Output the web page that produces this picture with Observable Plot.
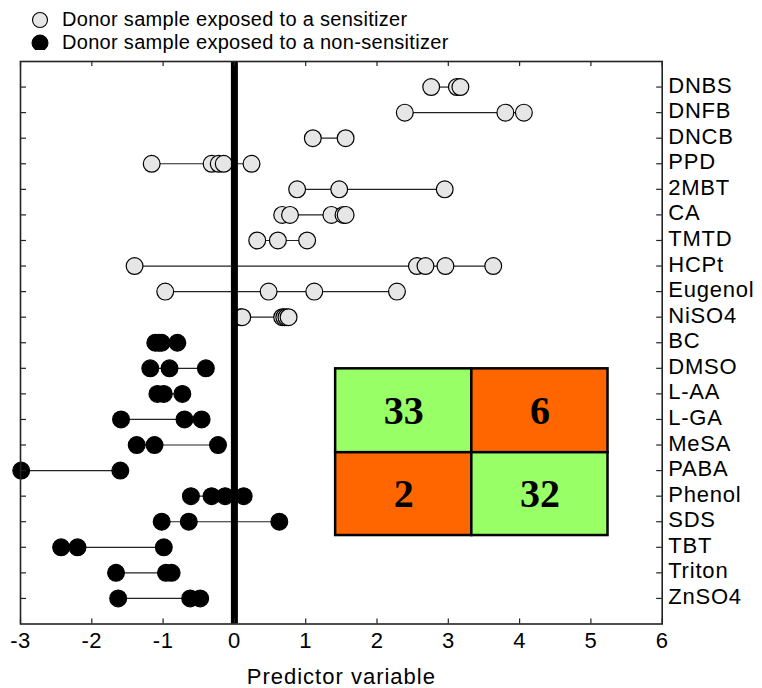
<!DOCTYPE html>
<html>
<head>
<meta charset="utf-8">
<script src="https://cdn.jsdelivr.net/npm/d3@7"></script>
<script src="https://cdn.jsdelivr.net/npm/@observablehq/plot@0.6"></script>
<style>
  html, body { margin: 0; padding: 0; background: white; }
  #wrap { position: relative; width: 762px; font-family: "Liberation Sans", Arial, sans-serif; }
  #legend { position: relative; height: 50px; }
  #legend svg { position: absolute; left: 0; top: 0; }
  #legend .item { position: absolute; left: 62px; font-size: 20px; letter-spacing: 0.3px; line-height: 22px; color: #000; white-space: nowrap; }
</style>
</head>
<body>
<div id="wrap">
  <div id="legend">
    <svg width="60" height="50">
      <circle cx="40" cy="20" r="7.5" fill="#e6e6e6" stroke="#000" stroke-width="1.1"></circle>
      <circle cx="40" cy="43" r="8" fill="#000" stroke="#000" stroke-width="1"></circle>
    </svg>
    <div class="item" style="top:8px">Donor sample exposed to a sensitizer</div>
    <div class="item" style="top:31px">Donor sample exposed to a non-sensitizer</div>
  </div>
  <div id="chart"></div>
</div>
<script>
// ---- Data ----
const compounds = ["DNBS","DNFB","DNCB","PPD","2MBT","CA","TMTD","HCPt","Eugenol","NiSO4",
  "BC","DMSO","L-AA","L-GA","MeSA","PABA","Phenol","SDS","TBT","Triton","ZnSO4"];
const sensitizerCount = 10; // first 10 compounds are sensitizers
const predictorValues = [
  [2.76, 3.12, 3.17],
  [2.39, 3.80, 4.06],
  [1.10, 1.56],
  [-1.16, -0.32, -0.22, -0.15, 0.24],
  [0.88, 1.47, 2.95],
  [0.67, 0.78, 1.36, 1.53, 1.56],
  [0.32, 0.61, 1.02],
  [-1.40, 2.56, 2.68, 2.96, 3.63],
  [-0.97, 0.48, 1.12, 2.28],
  [0.085, 0.11, 0.67, 0.70, 0.73, 0.76],
  [-1.11, -1.06, -1.02, -0.80],
  [-1.18, -0.91, -0.40],
  [-1.08, -0.99, -0.73],
  [-1.59, -0.70, -0.46],
  [-1.37, -1.12, -0.23],
  [-2.99, -1.60],
  [-0.61, -0.32, -0.13, 0.13],
  [-1.02, -0.64, 0.63],
  [-2.43, -2.20, -0.99],
  [-1.66, -0.96, -0.88],
  [-1.63, -0.62, -0.48]
];
const xTicks = [-3, -2, -1, 0, 1, 2, 3, 4, 5, 6];
// confusion matrix inset
const matrixCounts = [33, 6, 2, 32];
const matrixFills = ["#99ff66", "#ff6600", "#ff6600", "#99ff66"];
const matrixXEdges = [1.42, 3.33, 5.24];
const matrixYEdges = [11.02, 14.30, 17.54];

// ---- Build tables ----
const points = [];
const ranges = [];
predictorValues.forEach((vals, i) => {
  const sorted = [...vals].sort((a, b) => a - b);
  sorted.forEach(v => points.push({idx: i, value: v, sens: i < sensitizerCount}));
  ranges.push({idx: i, min: d3.min(vals), max: d3.max(vals)});
});
const cells = matrixCounts.map((c, k) => {
  const r = Math.floor(k / 2), col = k % 2;
  return {
    count: c, fill: matrixFills[k],
    x1: matrixXEdges[col], x2: matrixXEdges[col + 1],
    y1: matrixYEdges[r], y2: matrixYEdges[r + 1]
  };
});
const rowIdx = d3.range(compounds.length);

const W = 762, H = 638, mT = 11, mB = 64.5, mL = 20, mR = 100.3;
const innerH = H - mT - mB, innerW = W - mL - mR;
const font = '"Liberation Sans", Arial, sans-serif';

const chart = Plot.plot({
  width: W, height: H,
  marginTop: mT, marginBottom: mB, marginLeft: mL, marginRight: mR,
  style: {fontFamily: font, fontSize: "21px", color: "#000", background: "white", overflow: "visible"},
  x: {domain: [-3, 6]},
  y: {domain: [-1, compounds.length], reverse: true},
  marks: [
    Plot.ruleY(ranges, {y: "idx", x1: "min", x2: "max", stroke: "#222", strokeWidth: 1.2}),
    Plot.dot(points, {x: "value", y: "idx", r: 8.4, fill: d => d.sens ? "#e6e6e6" : "#000",
      stroke: "#000", strokeWidth: 1.2}),
    Plot.rect(cells, {x1: "x1", x2: "x2", y1: "y1", y2: "y2", fill: "fill", stroke: "#000", strokeWidth: 2.5}),
    Plot.text(cells, {x: d => (d.x1 + d.x2) / 2, y: d => (d.y1 + d.y2) / 2, text: d => String(d.count),
      fontSize: 40, fontWeight: "bold", fontFamily: '"Liberation Serif", "Times New Roman", serif', fill: "#000"}),
    Plot.ruleX([0], {stroke: "#000", strokeWidth: 7}),
    // inward ticks
    Plot.tickX(xTicks, {x: d => d, insetTop: innerH - 5, stroke: "#222", strokeWidth: 1.2}),
    Plot.tickX(xTicks, {x: d => d, insetBottom: innerH - 5, stroke: "#222", strokeWidth: 1.2}),
    Plot.tickY(rowIdx, {y: d => d, insetRight: innerW - 6, stroke: "#222", strokeWidth: 1.2}),
    Plot.tickY(rowIdx, {y: d => d, insetLeft: innerW - 5.5, stroke: "#222", strokeWidth: 1.2}),
    Plot.frame({stroke: "#222", strokeWidth: 1.6}),
    Plot.axisX({anchor: "bottom", ticks: xTicks, tickSize: 0, tickPadding: 8, tickFormat: d => String(d),
      fontSize: 22, label: "Predictor variable", labelAnchor: "center", labelArrow: "none", labelOffset: 60}),
    Plot.axisY({anchor: "right", ticks: rowIdx, tickSize: 0, tickPadding: 6, tickFormat: i => compounds[i],
      fontSize: 22, dy: -1.5, label: null})
  ]
});
// widen axis text slightly to match the reference's letter spacing
chart.querySelectorAll('g[aria-label="y-axis tick label"]').forEach(g => g.setAttribute("letter-spacing", "0.8"));
chart.querySelectorAll('g[aria-label="x-axis tick label"]').forEach(g => g.setAttribute("letter-spacing", "0.5"));
chart.querySelectorAll('g[aria-label="x-axis label"]').forEach(g => { g.setAttribute("letter-spacing", "1"); g.setAttribute("font-size", "22"); });
document.getElementById("chart").appendChild(chart);
</script>
</body>
</html>
